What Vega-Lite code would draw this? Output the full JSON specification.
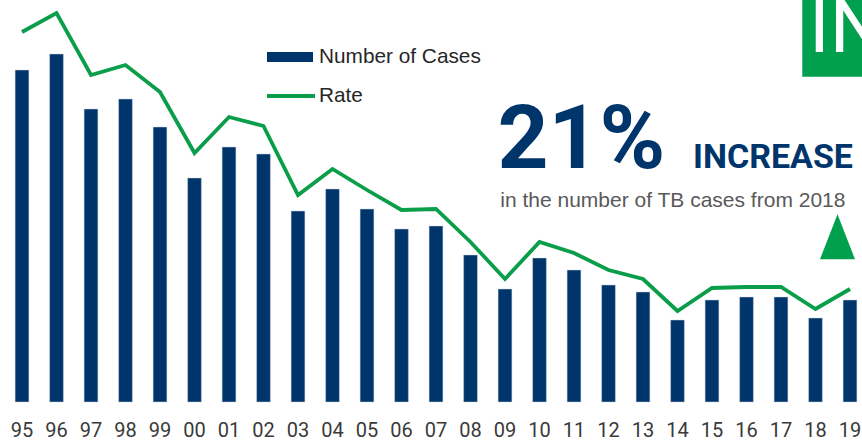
{
  "$schema": "https://vega.github.io/schema/vega-lite/v6.json",
  "width": 852,
  "height": 402,
  "autosize": {"type": "none"},
  "padding": {"left": 10, "top": 0, "right": 0, "bottom": 41},
  "background": "white",
  "config": {"view": {"stroke": null}},
  "data": {"values": [
    {"year": "95", "cases": 332, "rate": 3.70},
    {"year": "96", "cases": 348, "rate": 3.89},
    {"year": "97", "cases": 293, "rate": 3.27},
    {"year": "98", "cases": 303, "rate": 3.37},
    {"year": "99", "cases": 275, "rate": 3.10},
    {"year": "00", "cases": 224, "rate": 2.49},
    {"year": "01", "cases": 255, "rate": 2.85},
    {"year": "02", "cases": 248, "rate": 2.76},
    {"year": "03", "cases": 191, "rate": 2.07},
    {"year": "04", "cases": 213, "rate": 2.33},
    {"year": "05", "cases": 193, "rate": 2.12},
    {"year": "06", "cases": 173, "rate": 1.92},
    {"year": "07", "cases": 176, "rate": 1.93},
    {"year": "08", "cases": 147, "rate": 1.60},
    {"year": "09", "cases": 113, "rate": 1.23},
    {"year": "10", "cases": 144, "rate": 1.60},
    {"year": "11", "cases": 132, "rate": 1.49},
    {"year": "12", "cases": 117, "rate": 1.32},
    {"year": "13", "cases": 110, "rate": 1.23},
    {"year": "14", "cases": 82, "rate": 0.91},
    {"year": "15", "cases": 102, "rate": 1.14},
    {"year": "16", "cases": 105, "rate": 1.15},
    {"year": "17", "cases": 105, "rate": 1.15},
    {"year": "18", "cases": 84, "rate": 0.93},
    {"year": "19", "cases": 102, "rate": 1.13}
  ]},
  "encoding": {
    "x": {
      "field": "year", "type": "nominal", "sort": null,
      "scale": {"paddingInner": 0.6, "paddingOuter": 0.148},
      "axis": {"title": null, "domain": false, "ticks": false, "tickSize": 0, "labelAngle": 0, "labelPadding": 18,
               "labelFont": "Roboto", "labelFontSize": 20, "labelColor": "#3a3a3a"}
    }
  },
  "layer": [
    {
      "layer": [
        {
          "mark": {"type": "bar", "stroke": "#c8d2e0", "strokeWidth": 0.5},
          "encoding": {
            "y": {"field": "cases", "type": "quantitative", "scale": {"domain": [0, 402], "nice": false, "zero": true}, "axis": null},
            "fill": {
              "datum": "Number of Cases",
              "scale": {"domain": ["Number of Cases"], "range": ["#00356B"]},
              "legend": {
                "orient": "none", "legendX": 257, "legendY": 47, "title": null,
                "symbolType": "M-1,-0.22H1V0.22H-1Z",
                "symbolSize": 2116, "clipHeight": 20, "labelLimit": 400,
                "labelFont": "Liberation Sans", "labelFontSize": 20.8, "labelColor": "#262626", "labelOffset": 6,
                "symbolStrokeWidth": 0, "symbolOpacity": 1
              }
            }
          }
        },
        {
          "data": {"values": [{}]},
          "mark": {"type": "point", "filled": true, "shape": "M-1,-1.1625H1V1.1625H-1Z", "size": 6400, "color": "#00A04E", "opacity": 1, "strokeWidth": 0},
          "encoding": {
            "x": {"datum": "19"},
            "xOffset": {"value": -0.8},
            "y": {"datum": 371.8}
          }
        },
        {
          "data": {"values": [{}]},
          "mark": {"type": "text", "text": "IN", "font": "Roboto", "fontWeight": "normal", "fontSize": 76, "color": "#ffffff", "align": "left", "baseline": "alphabetic", "dx": -41},
          "encoding": {"x": {"datum": "19"}, "y": {"datum": 350.3}}
        },
        {
          "data": {"values": [{}]},
          "mark": {"type": "text", "text": "21%", "font": "Roboto", "fontWeight": "bold", "fontSize": 89, "color": "#00356B", "align": "left", "baseline": "alphabetic", "dx": -7.5},
          "encoding": {"x": {"datum": "09"}, "y": {"datum": 234}}
        },
        {
          "data": {"values": [{}]},
          "mark": {"type": "text", "text": "INCREASE", "font": "Roboto", "fontWeight": "bold", "fontSize": 34, "color": "#00356B", "align": "left", "baseline": "alphabetic", "dx": 15.5},
          "encoding": {"x": {"datum": "14"}, "y": {"datum": 233.7}}
        },
        {
          "data": {"values": [{}]},
          "mark": {"type": "text", "text": "in the number of TB cases from 2018", "font": "Liberation Sans", "fontSize": 21, "color": "#595959", "align": "left", "baseline": "alphabetic", "dx": -4.7},
          "encoding": {"x": {"datum": "09"}, "y": {"datum": 194.7}}
        },
        {
          "data": {"values": [{}]},
          "mark": {"type": "point", "filled": true, "shape": "M0,-1L0.778,1L-0.778,1Z", "size": 2025, "color": "#00A04E", "opacity": 1, "strokeWidth": 0},
          "encoding": {
            "x": {"datum": "19"},
            "xOffset": {"value": -5.6},
            "y": {"datum": 165.2}
          }
        }
      ]
    },
    {
      "mark": {"type": "line", "strokeWidth": 3.8, "strokeJoin": "miter", "clip": false},
      "encoding": {
        "y": {"field": "rate", "type": "quantitative", "scale": {"domain": [0, 4.02], "nice": false, "zero": true}, "axis": null},
        "stroke": {
          "datum": "Rate",
          "scale": {"domain": ["Rate"], "range": ["#0A9E4A"]},
          "legend": {
            "orient": "none", "legendX": 255, "legendY": 86, "title": null,
            "symbolType": "stroke", "symbolSize": 2304, "clipHeight": 20, "symbolStrokeWidth": 4, "labelLimit": 400,
            "labelFont": "Liberation Sans", "labelFontSize": 20.8, "labelColor": "#262626", "labelOffset": 2,
            "symbolOpacity": 1
          }
        }
      }
    }
  ],
  "resolve": {"scale": {"y": "independent"}}
}
